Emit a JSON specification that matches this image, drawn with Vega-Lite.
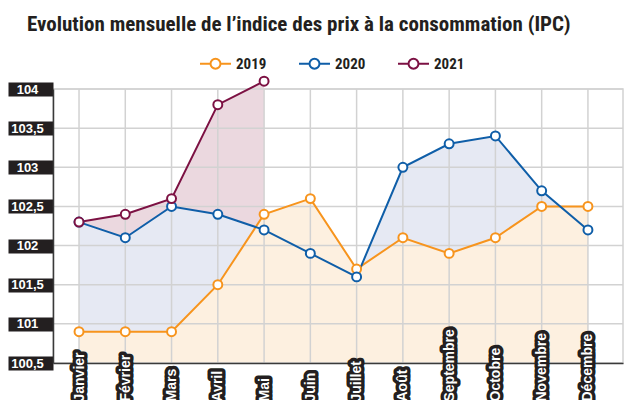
{
  "$schema": "https://vega.github.io/schema/vega-lite/v6.json",
  "width": 570,
  "height": 274,
  "autosize": {"type": "none"},
  "padding": {"left": 53, "top": 89, "right": 8, "bottom": 37},
  "background": "white",
  "title": {
    "text": "Evolution mensuelle de l’indice des prix à la consommation (IPC)",
    "anchor": "start",
    "frame": "group",
    "dx": -26,
    "offset": 12,
    "font": "Roboto Condensed",
    "fontSize": 21,
    "fontWeight": "bold",
    "color": "#231f20"
  },
  "datasets": {
    "ipc": [
      {"annee": "2019", "n": 1, "mois": "Janvier", "ipc": 100.9},
      {"annee": "2019", "n": 2, "mois": "Février", "ipc": 100.9},
      {"annee": "2019", "n": 3, "mois": "Mars", "ipc": 100.9},
      {"annee": "2019", "n": 4, "mois": "Avril", "ipc": 101.5},
      {"annee": "2019", "n": 5, "mois": "Mai", "ipc": 102.4},
      {"annee": "2019", "n": 6, "mois": "Juin", "ipc": 102.6},
      {"annee": "2019", "n": 7, "mois": "Juillet", "ipc": 101.7},
      {"annee": "2019", "n": 8, "mois": "Août", "ipc": 102.1},
      {"annee": "2019", "n": 9, "mois": "Septembre", "ipc": 101.9},
      {"annee": "2019", "n": 10, "mois": "Octobre", "ipc": 102.1},
      {"annee": "2019", "n": 11, "mois": "Novembre", "ipc": 102.5},
      {"annee": "2019", "n": 12, "mois": "Décembre", "ipc": 102.5},
      {"annee": "2020", "n": 1, "mois": "Janvier", "ipc": 102.3},
      {"annee": "2020", "n": 2, "mois": "Février", "ipc": 102.1},
      {"annee": "2020", "n": 3, "mois": "Mars", "ipc": 102.5},
      {"annee": "2020", "n": 4, "mois": "Avril", "ipc": 102.4},
      {"annee": "2020", "n": 5, "mois": "Mai", "ipc": 102.2},
      {"annee": "2020", "n": 6, "mois": "Juin", "ipc": 101.9},
      {"annee": "2020", "n": 7, "mois": "Juillet", "ipc": 101.6},
      {"annee": "2020", "n": 8, "mois": "Août", "ipc": 103.0},
      {"annee": "2020", "n": 9, "mois": "Septembre", "ipc": 103.3},
      {"annee": "2020", "n": 10, "mois": "Octobre", "ipc": 103.4},
      {"annee": "2020", "n": 11, "mois": "Novembre", "ipc": 102.7},
      {"annee": "2020", "n": 12, "mois": "Décembre", "ipc": 102.2},
      {"annee": "2021", "n": 1, "mois": "Janvier", "ipc": 102.3},
      {"annee": "2021", "n": 2, "mois": "Février", "ipc": 102.4},
      {"annee": "2021", "n": 3, "mois": "Mars", "ipc": 102.6},
      {"annee": "2021", "n": 4, "mois": "Avril", "ipc": 103.8},
      {"annee": "2021", "n": 5, "mois": "Mai", "ipc": 104.1}
    ],
    "grille": [
      {"niveau": 100.5}, {"niveau": 101}, {"niveau": 101.5}, {"niveau": 102},
      {"niveau": 102.5}, {"niveau": 103}, {"niveau": 103.5}, {"niveau": 104}
    ]
  },
  "data": {"name": "ipc"},
  "resolve": {"axis": {"x": "independent", "y": "independent"}},
  "layer": [
    {
      "transform": [{"filter": "datum.annee === '2021'"}],
      "mark": {"type": "area", "color": "#ebd8df", "opacity": 1},
      "encoding": {
        "x": {
          "field": "mois", "type": "ordinal", "sort": {"field": "n", "op": "min"},
          "scale": {"type": "point", "padding": 0.66, "align": 0.426},
          "axis": {"orient": "bottom", "title": null, "labels": false, "ticks": false, "grid": false,
                   "domain": true, "domainColor": "#3a3a3a", "domainWidth": 1.5, "zindex": 1}
        },
        "y": {
          "field": "ipc", "type": "quantitative", "stack": null,
          "scale": {"domain": [100.5, 104], "nice": false, "zero": false},
          "axis": {
            "orient": "left",
            "title": null, "values": [100.5, 101, 101.5, 102, 102.5, 103, 103.5, 104],
            "format": "~g",
            "grid": false, "domain": true, "domainColor": "#3a3a3a", "domainWidth": 1.5,
            "ticks": true, "tickSize": 45, "tickWidth": 14, "tickColor": "#231f20",
            "labelColor": "white", "labelFont": "Liberation Sans", "labelFontWeight": "bold",
            "labelFontSize": 13, "labelAlign": "center", "labelBaseline": "middle", "labelPadding": -19,
            "labelOverlap": false, "labelBound": false, "labelFlush": false,
            "zindex": 1
          }
        }
      }
    },
    {
      "transform": [{"filter": "datum.annee === '2020'"}],
      "mark": {"type": "area", "color": "#e6e9f3", "opacity": 1},
      "encoding": {
        "x": {
          "field": "mois", "type": "ordinal", "sort": {"field": "n", "op": "min"},
          "axis": {"orient": "bottom", "title": null, "grid": false, "domain": false, "ticks": false, "tickSize": 0,
                   "labelAngle": 270, "labelAlign": "left", "labelBaseline": "middle", "labelPadding": 38,
                   "labelFont": "Liberation Sans", "labelFontWeight": "bold", "labelFontSize": 14,
                   "labelColor": "#231f20", "labelOverlap": false, "labelBound": false, "labelFlush": false,
                   "encoding": {"labels": {"stroke": {"value": "#231f20"}, "strokeWidth": {"value": 7}, "strokeJoin": {"value": "round"}}},
                   "zindex": 2}
        },
        "y": {"field": "ipc", "type": "quantitative", "stack": null, "axis": null}
      }
    },
    {
      "transform": [{"filter": "datum.annee === '2019'"}],
      "mark": {"type": "area", "color": "#fdf0e0", "opacity": 1},
      "encoding": {
        "x": {
          "field": "mois", "type": "ordinal", "sort": {"field": "n", "op": "min"},
          "axis": {"orient": "bottom", "title": null, "grid": false, "domain": false, "ticks": false, "tickSize": 0,
                   "labelAngle": 270, "labelAlign": "left", "labelBaseline": "middle", "labelPadding": 38,
                   "labelFont": "Liberation Sans", "labelFontWeight": "bold", "labelFontSize": 14,
                   "labelColor": "white", "labelOverlap": false, "labelBound": false, "labelFlush": false,
                   "zindex": 3}
        },
        "y": {"field": "ipc", "type": "quantitative", "stack": null, "axis": null}
      }
    },
    {
      "transform": [{"filter": "datum.annee === '2020'"}],
      "mark": {"type": "rule", "color": "#d2d2d2", "strokeWidth": 1.5},
      "encoding": {
        "x": {"field": "mois", "type": "ordinal", "sort": {"field": "n", "op": "min"}, "axis": null}
      }
    },
    {
      "data": {"name": "grille"},
      "mark": {"type": "rule", "color": "#d2d2d2", "strokeWidth": 1.5},
      "encoding": {
        "y": {"field": "niveau", "type": "quantitative", "axis": null}
      }
    },
    {
      "mark": {"type": "line", "strokeWidth": 2,
               "point": {"filled": false, "fill": "white", "size": 80, "strokeWidth": 2, "opacity": 1}},
      "encoding": {
        "x": {"field": "mois", "type": "ordinal", "sort": {"field": "n", "op": "min"}, "axis": null},
        "y": {"field": "ipc", "type": "quantitative", "stack": null, "axis": null},
        "color": {
          "field": "annee", "type": "nominal",
          "scale": {"domain": ["2019", "2020", "2021"], "range": ["#f7941d", "#0f5ea8", "#7c1143"]},
          "legend": {
            "title": null, "orient": "none", "legendX": 146, "legendY": -42, "direction": "horizontal",
            "symbolType": "M-1,0H-0.32M0.32,0H1M-0.32,0A0.32,0.32,0,1,1,0.32,0A0.32,0.32,0,1,1,-0.32,0Z",
            "symbolSize": 961, "symbolStrokeWidth": 2, "symbolFillColor": "white",
            "labelFont": "Roboto Condensed", "labelFontWeight": "bold", "labelFontSize": 15,
            "labelColor": "#231f20", "labelOffset": 4, "columnPadding": 28
          }
        }
      }
    }
  ],
  "config": {
    "view": {"stroke": "#d2d2d2", "strokeWidth": 1.5},
    "font": "Liberation Sans",
    "locale": {"number": {"decimal": ",", "thousands": " ", "grouping": [3], "currency": ["", " €"]}}
  }
}
